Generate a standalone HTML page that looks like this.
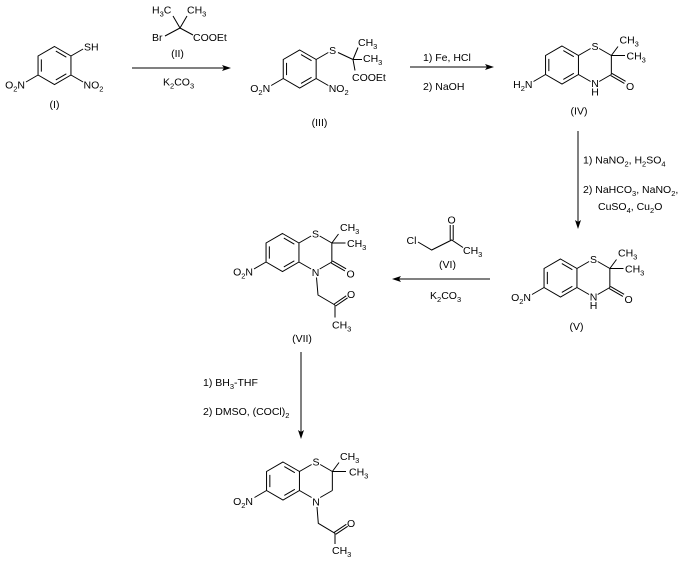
<!DOCTYPE html>
<html><head><meta charset="utf-8"><style>
html,body{margin:0;padding:0;background:#fff;}
svg{display:block;}
text{font-family:"Liberation Sans",Arial,sans-serif;font-size:10.5px;fill:#000;}
.b{fill:none;stroke:#000;stroke-width:1;}
</style></head><body>
<svg width="679" height="566" viewBox="0 0 679 566" xmlns="http://www.w3.org/2000/svg">

<!-- Compound I -->
<g transform="translate(54.5,65.5)">
<path class="b" d="M0,-19 L16.45,-9.5 L16.45,9.5 L0,19 L-16.45,9.5 L-16.45,-9.5 Z M1.32,-14.44 L11.84,-8.36 M11.84,8.36 L1.32,14.44 M-13.16,6.08 L-13.16,-6.08 M16.45,-9.5 L28.6,-16.5 M16.45,9.5 L28.6,16.5 M-16.45,9.5 L-28.5,16.5"/>
<text x="29.5" y="-15.2">SH</text>
<text x="29" y="22.8">NO<tspan font-size="7.5" dy="3">2</tspan></text>
<text x="-29.5" y="22.8" text-anchor="end">O<tspan font-size="7.5" dy="3">2</tspan><tspan dy="-3">N</tspan></text>
<text x="0" y="42.5" text-anchor="middle">(I)</text>
</g>

<!-- Reagent II -->
<path class="b" d="M180,28 L173,16 M180,28 L187,16 M180,28 L165,36 M180,28 L193,35"/>
<text x="152" y="13.5">H<tspan font-size="7.5" dy="3">3</tspan><tspan dy="-3">C</tspan></text>
<text x="187" y="13.5">CH<tspan font-size="7.5" dy="3">3</tspan></text>
<text x="152" y="41">Br</text>
<text x="193" y="41">COOEt</text>
<text x="177.5" y="57" text-anchor="middle">(II)</text>

<!-- Arrow 1 -->
<path class="b" d="M132,68 L226,68"/>
<polygon points="231,68 222,65 224,68 222,71" fill="#000"/>
<text x="163" y="85.5">K<tspan font-size="7.5" dy="3">2</tspan><tspan dy="-3">CO</tspan><tspan font-size="7.5" dy="3">3</tspan></text>

<!-- Compound III -->
<g transform="translate(299.7,69)">
<path class="b" d="M0,-19 L16.45,-9.5 L16.45,9.5 L0,19 L-16.45,9.5 L-16.45,-9.5 Z M1.32,-14.44 L11.84,-8.36 M11.84,8.36 L1.32,14.44 M-13.16,6.08 L-13.16,-6.08 M16.45,-9.5 L28.6,-16.5 M16.45,9.5 L28.6,16.5 M-16.45,9.5 L-28.5,16.5"/>
<text x="33" y="-15.2" text-anchor="middle">S</text>
<text x="29" y="22.8">NO<tspan font-size="7.5" dy="3">2</tspan></text>
<text x="-29.5" y="22.8" text-anchor="end">O<tspan font-size="7.5" dy="3">2</tspan><tspan dy="-3">N</tspan></text>
</g>
<path class="b" d="M338,52.5 L353,59.5 M353,59.5 L358,47.5 M353,59.5 L362,59.5 M353,59.5 L355,70.5"/>
<text x="358" y="46">CH<tspan font-size="7.5" dy="3">3</tspan></text>
<text x="363" y="62">CH<tspan font-size="7.5" dy="3">3</tspan></text>
<text x="352" y="81">COOEt</text>
<text x="319.5" y="126" text-anchor="middle">(III)</text>

<!-- Arrow 2 -->
<path class="b" d="M410,67 L489,67"/>
<polygon points="494,67 485,64 487,67 485,70" fill="#000"/>
<text x="423" y="61">1) Fe, HCl</text>
<text x="423" y="90">2) NaOH</text>

<!-- Compound IV -->
<g transform="translate(562,65)">
<path class="b" d="M0,-19 L16.45,-9.5 L16.45,9.5 L0,19 L-16.45,9.5 L-16.45,-9.5 Z M1.32,-14.44 L11.84,-8.36 M11.84,8.36 L1.32,14.44 M-13.16,6.08 L-13.16,-6.08 M16.45,-9.5 L28.6,-16.5 M37.2,-16.5 L49.35,-9.5 M49.35,-9.5 L49.35,9.5 M49.35,9.5 L37.2,16.5 M28.6,16.5 L16.45,9.5 M49.35,-9.5 L56,-18.5 M49.35,-9.5 L63,-9.5 M48.75,10.54 L62.4,18.44 M49.95,8.46 L63.6,16.36 M-16.45,9.5 L-28.5,16.5"/>
<text x="33" y="-15.2" text-anchor="middle">S</text>
<text x="33" y="22" text-anchor="middle">N</text>
<text x="33" y="30.5" text-anchor="middle">H</text>
<text x="64" y="24.8">O</text>
<text x="57.5" y="-21.5">CH<tspan font-size="7.5" dy="3">3</tspan></text>
<text x="64.5" y="-5.7">CH<tspan font-size="7.5" dy="3">3</tspan></text>
<text x="-29.5" y="22.8" text-anchor="end">H<tspan font-size="7.5" dy="3">2</tspan><tspan dy="-3">N</tspan></text>
<text x="17" y="49.5" text-anchor="middle">(IV)</text>
</g>

<!-- Arrow 3 -->
<path class="b" d="M578,131 L578,224"/>
<polygon points="578,229 575,220 578,222 581,220" fill="#000"/>
<text x="583" y="163.5">1) NaNO<tspan font-size="7.5" dy="3">2</tspan><tspan dy="-3">, H</tspan><tspan font-size="7.5" dy="3">2</tspan><tspan dy="-3">SO</tspan><tspan font-size="7.5" dy="3">4</tspan></text>
<text x="583" y="193">2) NaHCO<tspan font-size="7.5" dy="3">3</tspan><tspan dy="-3">, NaNO</tspan><tspan font-size="7.5" dy="3">2</tspan><tspan dy="-3">,</tspan></text>
<text x="598" y="210">CuSO<tspan font-size="7.5" dy="3">4</tspan><tspan dy="-3">, Cu</tspan><tspan font-size="7.5" dy="3">2</tspan><tspan dy="-3">O</tspan></text>

<!-- Compound V -->
<g transform="translate(560.5,278)">
<path class="b" d="M0,-19 L16.45,-9.5 L16.45,9.5 L0,19 L-16.45,9.5 L-16.45,-9.5 Z M1.32,-14.44 L11.84,-8.36 M11.84,8.36 L1.32,14.44 M-13.16,6.08 L-13.16,-6.08 M16.45,-9.5 L28.6,-16.5 M37.2,-16.5 L49.35,-9.5 M49.35,-9.5 L49.35,9.5 M49.35,9.5 L37.2,16.5 M28.6,16.5 L16.45,9.5 M49.35,-9.5 L56,-18.5 M49.35,-9.5 L63,-9.5 M48.75,10.54 L62.4,18.44 M49.95,8.46 L63.6,16.36 M-16.45,9.5 L-28.5,16.5"/>
<text x="33" y="-15.2" text-anchor="middle">S</text>
<text x="33" y="22.5" text-anchor="middle">N</text>
<text x="33" y="31" text-anchor="middle">H</text>
<text x="64" y="24.8">O</text>
<text x="57.5" y="-21.5">CH<tspan font-size="7.5" dy="3">3</tspan></text>
<text x="64.5" y="-5.7">CH<tspan font-size="7.5" dy="3">3</tspan></text>
<text x="-29.5" y="22.8" text-anchor="end">O<tspan font-size="7.5" dy="3">2</tspan><tspan dy="-3">N</tspan></text>
<text x="16" y="52" text-anchor="middle">(V)</text>
</g>

<!-- Arrow 4 -->
<path class="b" d="M397,279 L490,279"/>
<polygon points="392,279 401,276 399,279 401,282" fill="#000"/>
<text x="430" y="299">K<tspan font-size="7.5" dy="3">2</tspan><tspan dy="-3">CO</tspan><tspan font-size="7.5" dy="3">3</tspan></text>

<!-- Reagent VI -->
<path class="b" d="M418,242 L431.7,250 L451.7,240 L463,247.5 M450.2,240 L450.2,225 M453.2,240 L453.2,225"/>
<text x="406.5" y="244">Cl</text>
<text x="447.5" y="223.5">O</text>
<text x="463" y="254">CH<tspan font-size="7.5" dy="3">3</tspan></text>
<text x="447.5" y="268" text-anchor="middle">(VI)</text>

<!-- Compound VII -->
<g transform="translate(282.5,252.5)">
<path class="b" d="M0,-19 L16.45,-9.5 L16.45,9.5 L0,19 L-16.45,9.5 L-16.45,-9.5 Z M1.32,-14.44 L11.84,-8.36 M11.84,8.36 L1.32,14.44 M-13.16,6.08 L-13.16,-6.08 M16.45,-9.5 L28.6,-16.5 M37.2,-16.5 L49.35,-9.5 M49.35,-9.5 L49.35,9.5 M49.35,9.5 L37.2,16.5 M28.6,16.5 L16.45,9.5 M49.35,-9.5 L56,-18.5 M49.35,-9.5 L63,-9.5 M48.75,10.54 L62.4,18.44 M49.95,8.46 L63.6,16.36 M-16.45,9.5 L-28.5,16.5 M34,25 L35.5,42.5 L52.5,52.5 M51.8,51.5 L63.7,43.3 M53.2,53.5 L65.1,45.3 M52.5,52.5 L52.5,65"/>
<text x="33" y="-15.2" text-anchor="middle">S</text>
<text x="33" y="23.5" text-anchor="middle">N</text>
<text x="64" y="24.8">O</text>
<text x="57.5" y="-21.5">CH<tspan font-size="7.5" dy="3">3</tspan></text>
<text x="64.5" y="-5.7">CH<tspan font-size="7.5" dy="3">3</tspan></text>
<text x="-29.5" y="23" text-anchor="end">O<tspan font-size="7.5" dy="3">2</tspan><tspan dy="-3">N</tspan></text>
<text x="64.5" y="45.3">O</text>
<text x="49.5" y="76">CH<tspan font-size="7.5" dy="3">3</tspan></text>
<text x="19.5" y="89.5" text-anchor="middle">(VII)</text>
</g>

<!-- Arrow 5 -->
<path class="b" d="M301,352 L301,434"/>
<polygon points="301,439 298,430 301,432 304,430" fill="#000"/>
<text x="203" y="386">1) BH<tspan font-size="7.5" dy="3">3</tspan><tspan dy="-3">-THF</tspan></text>
<text x="203" y="415">2) DMSO, (COCl)<tspan font-size="7.5" dy="3">2</tspan></text>

<!-- Final compound -->
<g transform="translate(283,481)">
<path class="b" d="M0,-19 L16.45,-9.5 L16.45,9.5 L0,19 L-16.45,9.5 L-16.45,-9.5 Z M1.32,-14.44 L11.84,-8.36 M11.84,8.36 L1.32,14.44 M-13.16,6.08 L-13.16,-6.08 M16.45,-9.5 L28.6,-16.5 M37.2,-16.5 L49.35,-9.5 M49.35,-9.5 L49.35,9.5 M49.35,9.5 L37.2,16.5 M28.6,16.5 L16.45,9.5 M49.35,-9.5 L56,-18.5 M49.35,-9.5 L63,-9.5 M-16.45,9.5 L-28.5,16.5 M34,26 L35.3,42.3 L52,52.3 M51.3,51.3 L63.3,43.3 M52.7,53.3 L64.7,45.3 M52,52.3 L52,63"/>
<text x="33" y="-15.5" text-anchor="middle">S</text>
<text x="33" y="24.5" text-anchor="middle">N</text>
<text x="57" y="-21">CH<tspan font-size="7.5" dy="3">3</tspan></text>
<text x="66" y="-5.5">CH<tspan font-size="7.5" dy="3">3</tspan></text>
<text x="-30" y="24" text-anchor="end">O<tspan font-size="7.5" dy="3">2</tspan><tspan dy="-3">N</tspan></text>
<text x="64" y="45.8">O</text>
<text x="49" y="73">CH<tspan font-size="7.5" dy="3">3</tspan></text>
</g>

</svg>
</body></html>
